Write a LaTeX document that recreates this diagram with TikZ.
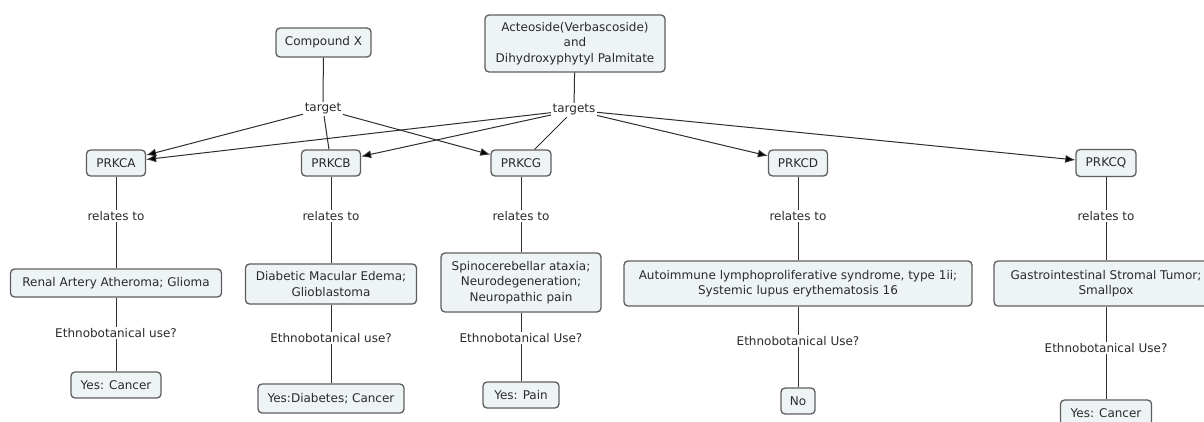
\documentclass[tikz,border=0pt]{standalone}
\usepackage{fontspec}
\setmainfont{DejaVu Sans}
\usetikzlibrary{arrows.meta}
\definecolor{boxfill}{HTML}{EEF3F6}
\definecolor{boxline}{HTML}{5E5E5E}
\definecolor{txt}{HTML}{2A2A2A}
\definecolor{lnk}{HTML}{2E2E2E}
\begin{document}
\begin{tikzpicture}[x=1pt,y=-1pt,
  concept/.style={draw=boxline, fill=boxfill, rounded corners=4pt, line width=1.3pt,
    align=center, inner sep=0pt, text=txt, font=\fontsize{12}{15.5}\selectfont},
  phrase/.style={inner sep=1.5pt, text=txt, font=\fontsize{12}{15.5}\selectfont},
  link/.style={draw=lnk, line width=1pt},
  arr/.style={link, -{Latex[length=10pt,width=8pt,fill=black]}}]
\path[use as bounding box, fill=white] (0,0) rectangle (1204,422);

% top concepts
\node[concept, minimum width=95pt, minimum height=29pt] (cx) at (323.5,42.5) {Compound X};
\node[concept, minimum width=180pt, minimum height=57pt] (act) at (575,43.5)
  {Acteoside(Verbascoside)\\and\\Dihydroxyphytyl Palmitate};
\node[phrase] (t1) at (323,109) {target};
\node[phrase] (t2) at (574,110) {targets};

% proteins
\node[concept, minimum width=59pt, minimum height=26pt] (a) at (116,163) {PRKCA};
\node[concept, minimum width=59pt, minimum height=26pt] (b) at (331,163) {PRKCB};
\node[concept, minimum width=60pt, minimum height=26pt] (g) at (521,163) {PRKCG};
\node[concept, minimum width=59pt, minimum height=26pt] (d) at (798,163) {PRKCD};
\node[concept, minimum width=60pt, minimum height=27pt] (q) at (1106,163) {PRKCQ};

% relates to
\node[phrase] (ra) at (116,216) {relates to};
\node[phrase] (rb) at (331,216) {relates to};
\node[phrase] (rg) at (521,216) {relates to};
\node[phrase] (rd) at (798,216) {relates to};
\node[phrase] (rq) at (1106,216) {relates to};

% diseases
\node[concept, minimum width=211pt, minimum height=28pt] (da) at (116,283) {Renal Artery Atheroma; Glioma};
\node[concept, minimum width=171pt, minimum height=40pt] (db) at (331,284) {Diabetic Macular Edema;\\Glioblastoma};
\node[concept, minimum width=160pt, minimum height=59pt] (dg) at (521,282.5) {Spinocerebellar ataxia;\\Neurodegeneration;\\Neuropathic pain};
\node[concept, minimum width=348pt, minimum height=45pt] (dd) at (798,283.5) {Autoimmune lymphoproliferative syndrome, type 1ii;\\Systemic lupus erythematosis 16};
\node[concept, minimum width=224pt, minimum height=45pt] (dq) at (1106,283.5) {Gastrointestinal Stromal Tumor;\\Smallpox};

% ethnobotanical
\node[phrase] (ea) at (116,333) {Ethnobotanical use?};
\node[phrase] (eb) at (331,338) {Ethnobotanical use?};
\node[phrase] (eg) at (521,338) {Ethnobotanical Use?};
\node[phrase] (ed) at (798,341) {Ethnobotanical Use?};
\node[phrase] (eq) at (1106,348) {Ethnobotanical Use?};

% uses
\node[concept, minimum width=90pt, minimum height=26pt] (ya) at (116,385) {Yes: Cancer};
\node[concept, minimum width=146pt, minimum height=29pt] (yb) at (331,398.5) {Yes:Diabetes; Cancer};
\node[concept, minimum width=76pt, minimum height=26pt] (yg) at (521,395) {Yes: Pain};
\node[concept, minimum width=34pt, minimum height=26pt] (yd) at (798,401) {No};
\node[concept, minimum width=91pt, minimum height=26pt] (yq) at (1106,413) {Yes: Cancer};

% top links
\draw[link] (cx) -- (t1);
\draw[link] (act) -- (t2);
\draw[arr] (t1) -- (a);
\draw[link] (t1) -- (b);
\draw[arr] (t1) -- (g);
\draw[arr] (t2) -- (a);
\draw[arr] (t2) -- (b);
\draw[link] (t2) -- (g);
\draw[arr] (t2) -- (d);
\draw[arr] (t2) -- (q);

% columns
\foreach \p/\r/\dd/\e/\y in {a/ra/da/ea/ya, b/rb/db/eb/yb, g/rg/dg/eg/yg, d/rd/dd/ed/yd, q/rq/dq/eq/yq}{
  \draw[link] (\p) -- (\r);
  \draw[link] (\r) -- (\dd);
  \draw[link] (\dd) -- (\e);
  \draw[link] (\e) -- (\y);
}
\end{tikzpicture}
\end{document}
